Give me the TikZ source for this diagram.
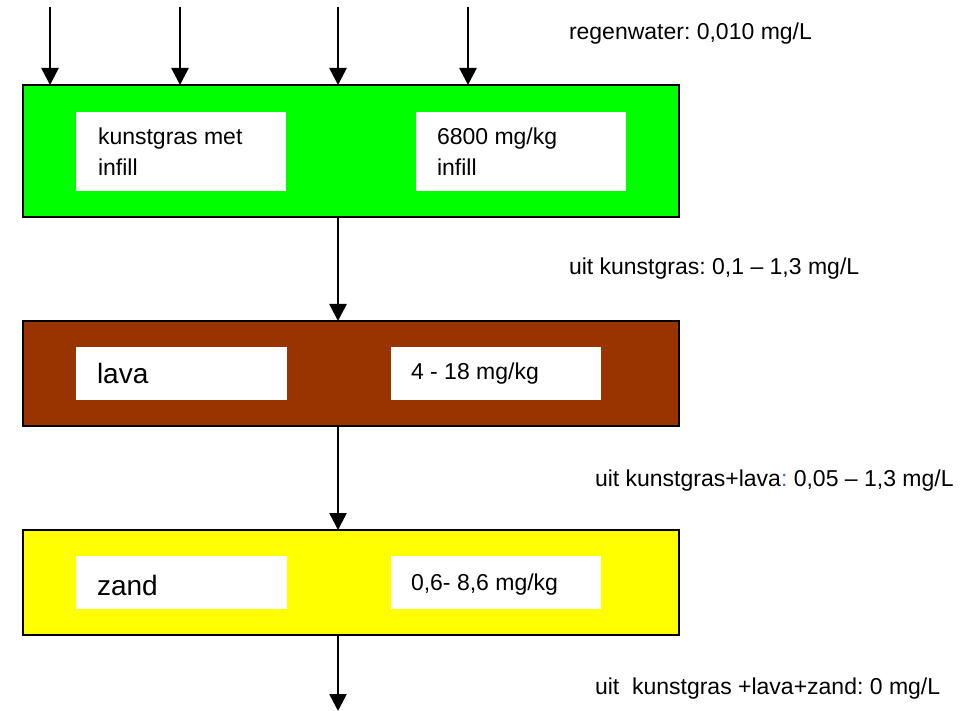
\documentclass[tikz,border=0pt]{standalone}
\usepackage{fontspec}
\setmainfont{Liberation Sans}
\usetikzlibrary{arrows.meta}
\definecolor{grasgreen}{RGB}{0,255,0}
\definecolor{lavabrown}{RGB}{153,51,0}
\definecolor{zandyellow}{RGB}{255,255,0}
\definecolor{colonblue}{RGB}{51,102,255}
\frenchspacing
\begin{document}
\begin{tikzpicture}[x=1pt,y=-1pt,
  layer/.style={draw=black, line width=1.5pt, inner sep=0, outer sep=0, anchor=north west, minimum width=656pt},
  whitebox/.style={fill=white, inner sep=0, outer sep=0, anchor=north west, minimum width=210pt},
  txt/.style={anchor=base west, inner sep=0, outer sep=0, font=\fontsize{23}{31}\selectfont},
  bigtxt/.style={anchor=base west, inner sep=0, outer sep=0, font=\fontsize{28}{34}\selectfont},
  flow/.style={line width=2.6pt, -{Triangle[width=17pt,length=17pt]}}]
\useasboundingbox (0,0) rectangle (978,711);
% layers
\node[layer, fill=grasgreen, minimum height=132pt] (gras) at (23,85) {};
\node[layer, fill=lavabrown, minimum height=105pt] (lava) at (23,321) {};
\node[layer, fill=zandyellow, minimum height=105pt] (zand) at (23,530) {};
% white label boxes
\node[whitebox, minimum height=79pt] (w1) at (76,112) {};
\node[whitebox, minimum height=79pt] (w2) at (416,112) {};
\node[whitebox, minimum width=211pt, minimum height=53pt] (w3) at (76,347) {};
\node[whitebox, minimum height=53pt] (w4) at (391,347) {};
\node[whitebox, minimum width=211pt, minimum height=53pt] (w5) at (76,556) {};
\node[whitebox, minimum height=53pt] (w6) at (391,556) {};
% texts in boxes
\node[txt] (t1a) at (98,145) {kunstgras met};
\node[txt] (t1b) at (98,176) {infill};
\node[txt] (t2a) at (437,145) {6800 mg/kg};
\node[txt] (t2b) at (437,176) {infill};
\node[bigtxt] (t3) at (97,384) {lava};
\node[txt] (t4) at (411,380) {4 - 18 mg/kg};
\node[bigtxt] (t5) at (97,595) {zand};
\node[txt] (t6) at (411,590) {0,6- 8,6 mg/kg};
% side labels
\node[txt] (l1) at (569,40) {regenwater: 0,010 mg/L};
\node[txt] (l2) at (569,275) {uit kunstgras: 0,1 – 1,3 mg/L};
\node[txt] (l3) at (595,486) {uit kunstgras+lava{\color{colonblue}:} 0,05 – 1,3 mg/L};
\node[txt] (l4) at (595,694) {uit\ \ kunstgras +lava+zand: 0 mg/L};
% arrows
\coordinate (a1) at (50,7);
\coordinate (a2) at (180,7);
\coordinate (a3) at (338,7);
\coordinate (a4) at (468,7);
\coordinate (bot) at (338,711);
\draw[flow] (a1) -- (a1 |- gras.north);
\draw[flow] (a2) -- (a2 |- gras.north);
\draw[flow] (a3) -- (a3 |- gras.north);
\draw[flow] (a4) -- (a4 |- gras.north);
\draw[flow] (gras.south -| a3) -- (lava.north -| a3);
\draw[flow] (lava.south -| a3) -- (zand.north -| a3);
\draw[flow] (zand.south -| bot) -- (bot);
\end{tikzpicture}
\end{document}
